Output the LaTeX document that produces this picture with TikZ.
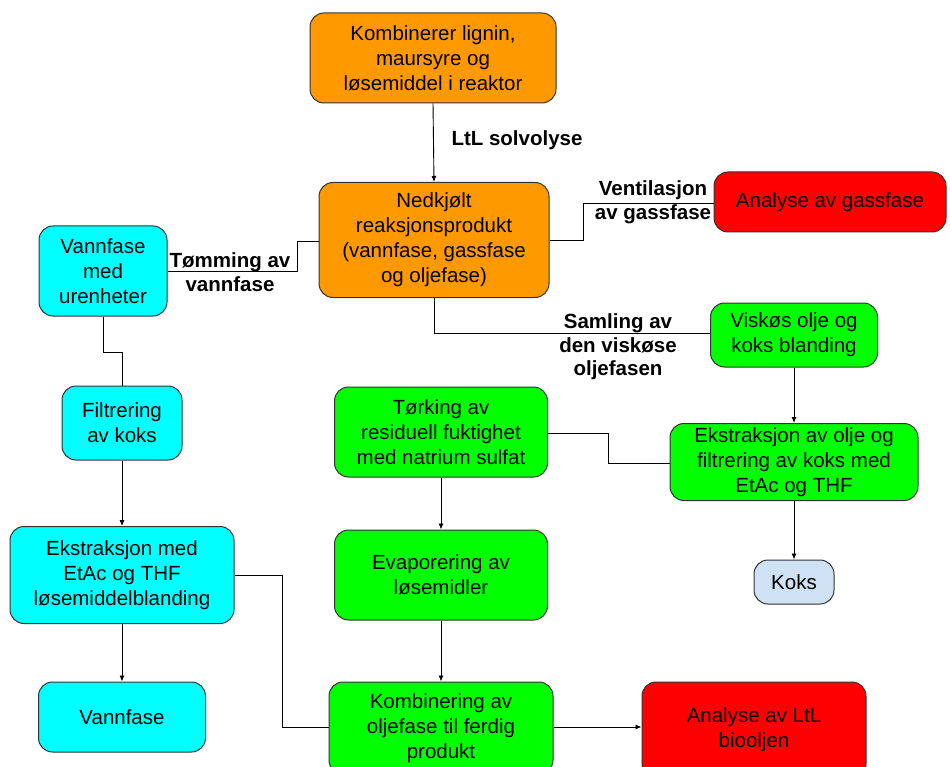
\documentclass[tikz,border=0pt]{standalone}
\usepackage{fontspec}
\setmainfont{Liberation Sans}
\usetikzlibrary{arrows.meta}
\definecolor{orng}{HTML}{FF9900}
\definecolor{cyn}{HTML}{00FFFF}
\definecolor{grn}{HTML}{00FF00}
\definecolor{rd}{HTML}{FF0000}
\definecolor{lblue}{HTML}{CFE2F3}
\definecolor{edge}{HTML}{333333}
\tikzset{
  box/.style={draw=edge, line width=1pt, rounded corners=14pt, align=center,
    font=\fontsize{20.5}{25}\selectfont, inner sep=2pt},
  lbl/.style={align=center, font=\fontsize{20.5}{23.5}\selectfont\bfseries, inner sep=1pt},
  con/.style={draw=black, line width=0.9pt},
  arr/.style={con, -{Latex[length=6pt,width=5pt]}},
}
\begin{document}
\begin{tikzpicture}[x=1pt,y=-1pt]
\useasboundingbox (0,0) rectangle (950,767);
\node[box, fill=orng, minimum width=246pt, minimum height=90pt] (komb) at (433,58) {Kombinerer lignin,\\maursyre og\\løsemiddel i reaktor};
\node[box, fill=orng, minimum width=230pt, minimum height=115pt] (ned) at (434,240) {Nedkjølt\\reaksjonsprodukt\\(vannfase, gassfase\\og oljefase)};
\node[box, fill=rd, minimum width=232pt, minimum height=60pt] (gass) at (830,202) {Analyse av gassfase};
\node[box, fill=cyn, minimum width=128pt, minimum height=90pt] (vmed) at (103,271) {Vannfase\\med\\urenheter};
\node[box, fill=grn, minimum width=167pt, minimum height=64pt] (visk) at (794,335) {Viskøs olje og\\koks blanding};
\node[box, fill=cyn, minimum width=120pt, minimum height=74pt] (filt) at (122,423) {Filtrering\\av koks};
\node[box, fill=grn, minimum width=213pt, minimum height=90pt] (tork) at (441,432) {Tørking av\\residuell fuktighet\\med natrium sulfat};
\node[box, fill=grn, minimum width=248pt, minimum height=77pt] (ekso) at (794,462) {Ekstraksjon av olje og\\filtrering av koks med\\EtAc og THF};
\node[box, fill=lblue, minimum width=80pt, minimum height=44pt] (koks) at (794,582) {Koks};
\node[box, fill=cyn, minimum width=224pt, minimum height=97pt] (eksm) at (122,575) {Ekstraksjon med\\EtAc og THF\\løsemiddelblanding};
\node[box, fill=grn, minimum width=213pt, minimum height=90pt] (evap) at (441,575) {Evaporering av\\løsemidler};
\node[box, fill=cyn, minimum width=167pt, minimum height=70pt] (vann) at (122,717) {Vannfase};
\node[box, fill=grn, minimum width=224pt, minimum height=92pt] (kombo) at (441,728) {Kombinering av\\oljefase til ferdig\\produkt};
\node[box, fill=rd, minimum width=224pt, minimum height=96pt] (ltl) at (754,730) {Analyse av LtL\\biooljen};

\coordinate (c1) at (583,240);
\coordinate (c2) at (583,203);
\coordinate (c3) at (297,241);
\coordinate (c4) at (297,271);
\coordinate (c5) at (434,333);
\coordinate (c6) at (103,352);
\coordinate (c7) at (122,352);
\coordinate (c8) at (282,575);
\coordinate (c9) at (282,727);
\coordinate (c10) at (608,463);
\coordinate (c11) at (608,433);

\draw[arr] (komb.south) -- (ned.north);
\draw[con] (ned.east |- c1) -- (c1) -- (c2) -- (gass.west |- c2);
\draw[con] (ned.west |- c3) -- (c3) -- (c4) -- (vmed.east |- c4);
\draw[con] (ned.south) -- (c5) -- (visk.west |- c5);
\draw[con] (vmed.south) -- (c6) -- (c7) -- (filt.north);
\draw[arr] (filt.south) -- (eksm.north);
\draw[arr] (eksm.south) -- (vann.north);
\draw[con] (eksm.east |- c8) -- (c8) -- (c9) -- (kombo.west |- c9);
\draw[arr] (visk.south) -- (ekso.north);
\draw[arr] (ekso.south) -- (koks.north);
\draw[con] (ekso.west |- c10) -- (c10) -- (c11) -- (tork.east |- c11);
\draw[arr] (tork.south) -- (evap.north);
\draw[arr] (evap.south) -- (kombo.north);
\draw[arr] (kombo.east |- c9) -- (ltl.west |- c9);

\node[lbl] (l1) at (517,140) {LtL solvolyse};
\node[lbl] (l2) at (653,202) {Ventilasjon\\av gassfase};
\node[lbl] (l3) at (230,272) {Tømming av\\vannfase};
\node[lbl] (l4) at (618,347) {Samling av\\den viskøse\\oljefasen};
\end{tikzpicture}
\end{document}
